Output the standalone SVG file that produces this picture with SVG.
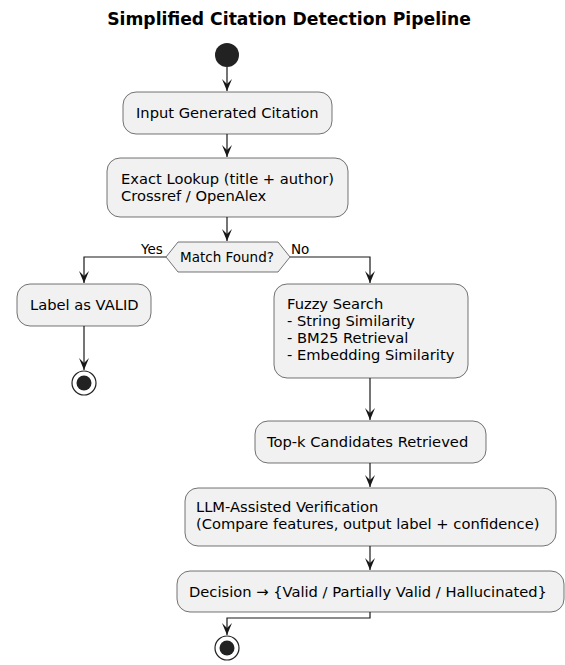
<svg xmlns="http://www.w3.org/2000/svg" width="565" height="665" viewBox="0 0 565 665">
<style>
.bg{fill:#FFFFFF}
.box{fill:#F1F1F1;stroke:#181818;stroke-width:0.6}
.t{font-family:"DejaVu Sans",sans-serif;font-size:14.7px;fill:#000000}
.s{font-family:"DejaVu Sans",sans-serif;font-size:13.5px;fill:#000000}
.title{font-family:"DejaVu Sans",sans-serif;font-size:17.2px;font-weight:bold;fill:#000000}
.c{fill:none;stroke:#181818;stroke-width:1.2}
</style>
<defs>
<marker id="ah" viewBox="0 0 12 10" refX="12" refY="5" markerWidth="12" markerHeight="10" markerUnits="userSpaceOnUse" orient="auto">
<path d="M0,0 L12,5 L0,10 L5,5 Z" fill="#181818"/>
</marker>
</defs>
<rect class="bg" x="0" y="0" width="565" height="665"/>
<text class="title" x="289" y="25" text-anchor="middle">Simplified Citation Detection Pipeline</text>

<g id="start"><circle cx="227" cy="55" r="12" fill="#222222"/></g>
<g id="input"><rect class="box" x="123" y="92" width="209" height="42" rx="13"/><text class="t" x="136" y="118">Input Generated Citation</text></g>
<g id="lookup"><rect class="box" x="107" y="158" width="241" height="59" rx="13"/><text class="t" x="121" y="184">Exact Lookup (title + author)</text><text class="t" x="121" y="201">Crossref / OpenAlex</text></g>
<g id="match"><polygon class="box" points="166,257 178,242 278,242 290,257 278,272 178,272"/><text class="s" x="180" y="262">Match Found?</text></g>
<g id="valid"><rect class="box" x="17" y="284" width="134" height="42" rx="13"/><text class="t" x="30" y="310">Label as VALID</text></g>
<g id="end1"><circle cx="84" cy="383" r="12" fill="#FFFFFF" stroke="#222222" stroke-width="1.2"/><circle cx="84" cy="383" r="7.5" fill="#222222"/></g>
<g id="fuzzy"><rect class="box" x="274" y="284" width="194" height="94" rx="13"/><text class="t" x="287" y="309">Fuzzy Search</text><text class="t" x="287" y="326">- String Similarity</text><text class="t" x="287" y="343">- BM25 Retrieval</text><text class="t" x="287" y="360">- Embedding Similarity</text></g>
<g id="topk"><rect class="box" x="255" y="421" width="231" height="42" rx="13"/><text class="t" x="267" y="447">Top-k Candidates Retrieved</text></g>
<g id="llm"><rect class="box" x="185" y="488" width="371" height="58" rx="13"/><text class="t" x="196" y="512">LLM-Assisted Verification</text><text class="t" x="196" y="529">(Compare features, output label + confidence)</text></g>
<g id="decision"><rect class="box" x="177" y="571" width="387" height="41" rx="13"/><text class="t" x="189" y="597">Decision → {Valid / Partially Valid / Hallucinated}</text></g>
<g id="end2"><circle cx="227" cy="648" r="12" fill="#FFFFFF" stroke="#222222" stroke-width="1.2"/><circle cx="227" cy="648" r="7.5" fill="#222222"/></g>

<g id="connectors">
<path class="c" d="M227,67 V91" marker-end="url(#ah)"/>
<path class="c" d="M227,134 V157" marker-end="url(#ah)"/>
<path class="c" d="M227,217 V241" marker-end="url(#ah)"/>
<path class="c" d="M166,257 H84 V283" marker-end="url(#ah)"/>
<text class="s" x="141" y="254">Yes</text>
<path class="c" d="M290,257 H370 V283" marker-end="url(#ah)"/>
<text class="s" x="291" y="254">No</text>
<path class="c" d="M84,326 V370" marker-end="url(#ah)"/>
<path class="c" d="M370,378 V420" marker-end="url(#ah)"/>
<path class="c" d="M370,463 V487" marker-end="url(#ah)"/>
<path class="c" d="M370,546 V570" marker-end="url(#ah)"/>
<path class="c" d="M370,612 V618 H227 V635" marker-end="url(#ah)"/>
</g>
</svg>
